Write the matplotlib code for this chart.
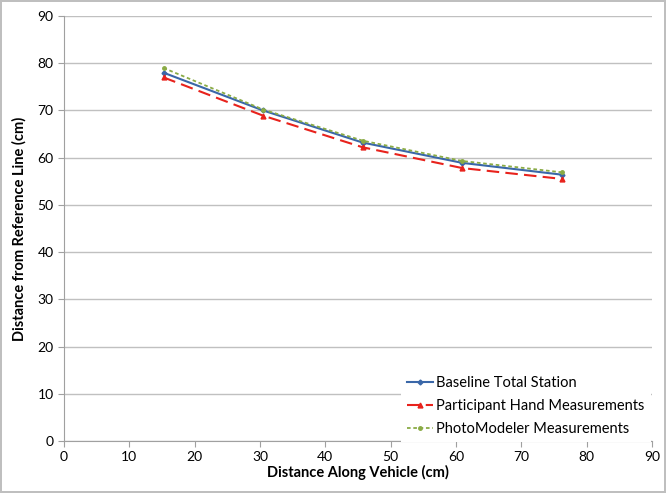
import numpy as np
import matplotlib.pyplot as plt

plt.rcParams['font.family'] = ['Lato', 'DejaVu Sans']

distance = [15.24, 30.48, 45.72, 60.96, 76.2]
baseline = [78.0, 70.0, 63.2, 58.9, 56.4]
participant = [77.0, 68.9, 62.2, 57.8, 55.5]
photomodeler = [79.0, 70.2, 63.6, 59.3, 56.9]

xticks = list(range(0, 91, 10))
yticks = list(range(0, 91, 10))

fig = plt.figure(figsize=(6.66, 4.93), dpi=100)
fig.patch.set_edgecolor('#bfbfbf')
fig.patch.set_linewidth(1.5)
ax = fig.add_axes([0.096, 0.1055, 0.883, 0.862])

ax.plot(distance, baseline, color='#3a67a8', lw=1.5, marker='D', ms=2.5,
        label='Baseline Total Station', zorder=3)
ax.plot(distance, participant, color='#e8221c', lw=1.5, ls=(0, (6, 3)), marker='^', ms=3.5,
        label='Participant Hand Measurements', zorder=3)
ax.plot(distance, photomodeler, color='#8aab45', lw=1.3, ls=(0, (2, 1.5)), marker='o', ms=2.5,
        label='PhotoModeler Measurements', zorder=4)

ax.set_xlim(0, 90)
ax.set_ylim(0, 90)
ax.set_xticks(xticks)
ax.set_yticks(yticks)
ax.yaxis.grid(True, color='#c0c0c0', lw=1)
ax.set_axisbelow(True)
for s in ['top', 'right']:
    ax.spines[s].set_visible(False)
for s in ['left', 'bottom']:
    ax.spines[s].set_color('#a0a0a0')
ax.tick_params(direction='out', color='#a0a0a0', labelsize=10, length=4)

ax.set_xlabel('Distance Along Vehicle (cm)', fontsize=10.5, fontweight='bold', labelpad=1)
ax.set_ylabel('Distance from Reference Line (cm)', fontsize=10.5, fontweight='bold', labelpad=8)

leg = ax.legend(loc='lower right', bbox_to_anchor=(1.0, -0.005), frameon=True, fontsize=10.5,
                handlelength=1.8, handletextpad=0.2, borderaxespad=0.1, labelspacing=0.6,
                fancybox=False)
leg.get_frame().set_edgecolor('none')
leg.get_frame().set_facecolor('white')
leg.get_frame().set_alpha(1)

fig.savefig('out.png', dpi=100)
